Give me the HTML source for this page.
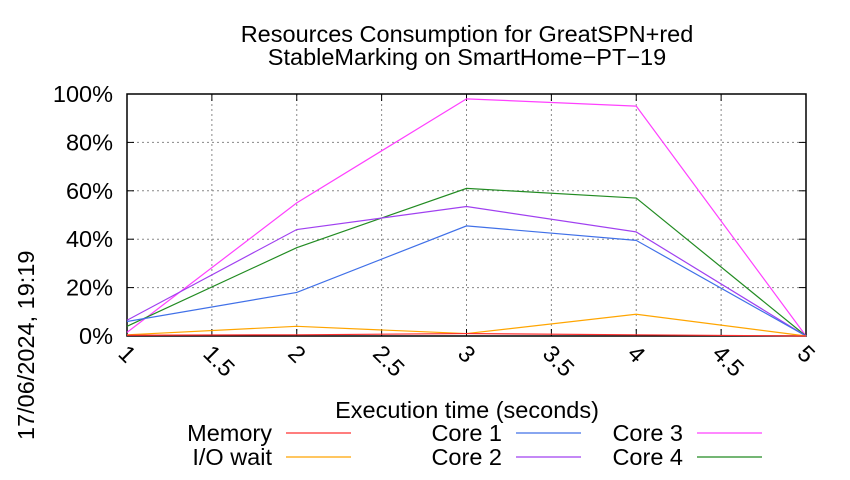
<!DOCTYPE html>
<html><head><meta charset="utf-8"><style>
body{margin:0;background:#fff;font-family:"Liberation Sans",sans-serif}
svg text{font-family:"Liberation Sans",sans-serif}
</style></head><body>
<svg width="850" height="475" xmlns="http://www.w3.org/2000/svg">
<text x="467" y="42" font-size="23.5" text-anchor="middle">Resources Consumption for GreatSPN+red</text>
<text x="467" y="65" font-size="23.5" text-anchor="middle">StableMarking on SmartHome−PT−19</text>
<g id="grid"></g><g id="axes"></g><g id="series"></g><g id="legend"></g>
<text x="467" y="418" font-size="23.5" text-anchor="middle">Execution time (seconds)</text>
<text transform="translate(34,440) rotate(-90)" font-size="23.5">17/06/2024, 19:19</text>
</svg>
<script>
const xs=[1,2,3,4,5];
const memory=[0.3,0.5,1,0.5,0];
const iowait=[0.5,4,1,9,0];
const core1=[6,18,45.5,39.5,0];
const core2=[6.5,44,53.5,43,0];
const core3=[1.5,55,98,95,0];
const core4=[4,36.5,61,57,0];
const xTicks=[1,1.5,2,2.5,3,3.5,4,4.5,5];
const yTicks=[0,20,40,60,80,100];
const L=127,R=806,T=94,B=336;
const X=v=>L+(v-1)/4*(R-L), Y=v=>B-v/100*(B-T);
const NS="http://www.w3.org/2000/svg";
function mk(p,t,a){const e=document.createElementNS(NS,t);for(const k in a)e.setAttribute(k,a[k]);p.appendChild(e);return e;}
const g=document.getElementById('grid'),ax=document.getElementById('axes'),s=document.getElementById('series'),lg=document.getElementById('legend');
xTicks.forEach(t=>{
 const l=mk(g,'line',{x1:X(t),x2:X(t),y1:T,y2:B,stroke:'#888','stroke-dasharray':'2,3','stroke-width':1});
 
 
 mk(ax,'line',{x1:X(t),x2:X(t),y1:B,y2:B-7,stroke:'#000'});
 mk(ax,'line',{x1:X(t),x2:X(t),y1:T,y2:T+7,stroke:'#000'});
 const tx=mk(ax,'text',{x:0,y:0,'font-size':23.5,transform:`translate(${X(t)-10},${B+19}) rotate(45)`});
 tx.textContent=t;
 
 
});
yTicks.forEach(t=>{
 const l=mk(g,'line',{x1:L,x2:R,y1:Y(t),y2:Y(t),stroke:'#888','stroke-dasharray':'2,3','stroke-width':1});
 
 
 mk(ax,'line',{x1:L,x2:L+7,y1:Y(t),y2:Y(t),stroke:'#000'});
 mk(ax,'line',{x1:R,x2:R-7,y1:Y(t),y2:Y(t),stroke:'#000'});
 const tx=mk(ax,'text',{x:L-14,y:Y(t)+8,'font-size':23.5,'text-anchor':'end'});
 tx.textContent=t+'%';
 
 
});
const fr=mk(ax,'rect',{x:L,y:T,width:R-L,height:B-T,fill:'none',stroke:'#000','stroke-width':1.5});


const ser=[["Memory",memory,"#ff3030",0,0],["I/O wait",iowait,"#ffa500",0,1],["Core 1",core1,"#4070e8",1,0],["Core 2",core2,"#a040f0",1,1],["Core 3",core3,"#ff40ff",2,0],["Core 4",core4,"#228b22",2,1]];
[4,5,3,2,1,0].forEach(i=>{
 const [n,d,c]=ser[i];
 const p=mk(s,'polyline',{points:xs.map((x,j)=>X(x)+','+Y(d[j])).join(' '),fill:'none',stroke:c,'stroke-width':1.2});
 
 
});
ser.forEach(([n,d,c,col,row])=>{
 const bx=[272,502,683][col], by=[441,465][row];
 const t=mk(lg,'text',{x:bx,y:by,'font-size':23.5,'text-anchor':'end'});
 t.textContent=n;
 
 
 const l=mk(lg,'line',{x1:bx+14,x2:bx+79,y1:by-8,y2:by-8,stroke:c,'stroke-width':1.2});
 
 
});
</script>
</body></html>
